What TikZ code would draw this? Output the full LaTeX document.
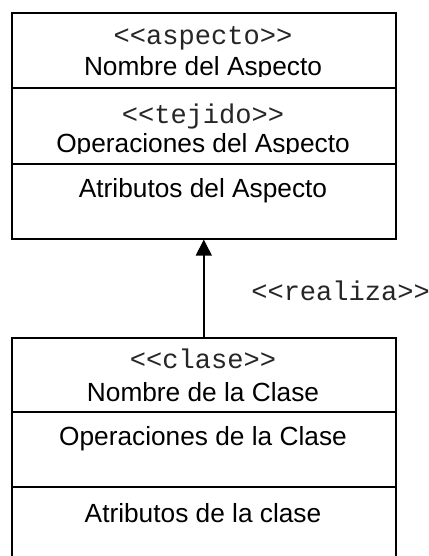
\documentclass[tikz,border=0pt]{standalone}
\usepackage{fontspec}
\setmainfont{Liberation Sans}
\setmonofont{Liberation Mono}
\usetikzlibrary{arrows.meta}

\tikzset{
    compart/.style={
        rectangle,
        draw=black,
        fill=white,
        line width=1.2pt,
        minimum width=288pt,
        anchor=north west,
        inner sep=0pt
    },
    stereo/.style={font=\fontsize{20.3}{22}\ttfamily, text=black!85, inner sep=0pt, anchor=base},
    label/.style={font=\fontsize{19.7}{22}\selectfont, inner sep=0pt, anchor=base}
}

\begin{document}
\begin{tikzpicture}[x=0.75pt,y=-0.75pt]

    \useasboundingbox (0,0) rectangle (428,556);

    % Aspecto
    \node[compart, minimum height=56.25pt] (asp1) at (11,12) {};
    \node[stereo] (aspst) at (203,45) {<{}<aspecto>{}>};
    \begin{scope}
        \clip (11,12) rectangle (395,77);
        \node[label] (aspnom) at (203,76) {Nombre del Aspecto};
    \end{scope}
    \node[compart, minimum height=57pt] (asp2) at (11,87) {};
    \node[stereo] (tejst) at (203,123) {<{}<tejido>{}>};
    \begin{scope}
        \clip (11,87) rectangle (395,153.5);
        \node[label] (aspop) at (203,152) {Operaciones del Aspecto};
    \end{scope}
    \node[compart, minimum height=56.25pt] (asp3) at (11,163) {};
    \node[label]  (aspat) at (203,197) {Atributos del Aspecto};

    % Clase
    \node[compart, minimum height=55.5pt] (cla1) at (11,337) {};
    \node[stereo] (clast) at (203,368) {<{}<clase>{}>};
    \node[label]  (clanom) at (203,401) {Nombre de la Clase};
    \node[compart, minimum height=56.25pt] (cla2) at (11,411) {};
    \node[label]  (claop) at (203,445) {Operaciones de la Clase};
    \node[compart, minimum height=56.25pt] (cla3) at (11,486) {};
    \node[label]  (claat) at (203,522) {Atributos de la clase};

    % Realizacion
    \draw[line width=1.2pt, -{Triangle[length=12pt,width=12pt]}]
        (cla1.north) -- (asp3.south)
        node[midway, stereo, anchor=base west, xshift=35pt, yshift=-9.4pt] (real) {<{}<realiza>{}>};

\end{tikzpicture}
\end{document}
